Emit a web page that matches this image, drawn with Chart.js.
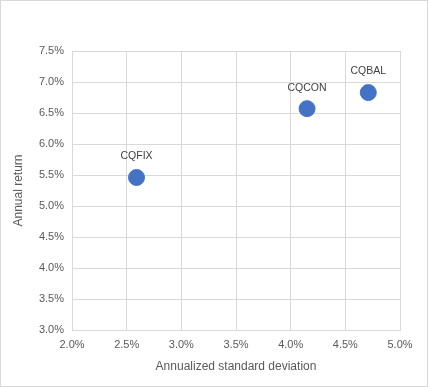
<!DOCTYPE html>
<html>
<head>
<meta charset="utf-8">
<script src="https://cdn.jsdelivr.net/npm/chart.js@4.4.1/dist/chart.umd.min.js"></script>
<style>
  html, body { margin: 0; padding: 0; background: #fff; }
  #wrap { position: relative; width: 426px; height: 385px; border: 1px solid #d9d9d9; }
</style>
</head>
<body>
<div id="wrap"><canvas id="riskChart" width="426" height="385"></canvas></div>
<script>
// fund names, risk (x, %) and return (y, %)
const funds = ['CQFIX', 'CQCON', 'CQBAL'];
const stdDev = [2.59, 4.15, 4.71];
const annualReturn = [5.46, 6.57, 6.83];

const xMin = 2.0, xMax = 5.0;
const yMin = 3.0, yMax = 7.5;

const fontFam = '"Liberation Sans", Arial, sans-serif';
const textColor = '#595959';
const gridColor = '#d9d9d9';
const dotColor = '#4472c4';

// draws the fund name above each point
const pointLabels = {
    id: 'pointLabels',
    afterDatasetsDraw(chart) {
        const ctx = chart.ctx;
        const meta = chart.getDatasetMeta(0);
        ctx.save();
        ctx.font = '10.5px ' + fontFam;
        ctx.fillStyle = '#404040';
        ctx.textAlign = 'center';
        ctx.textBaseline = 'middle';
        meta.data.forEach((pt, i) => {
            ctx.fillText(funds[i], pt.x, pt.y - 21);
        });
        ctx.restore();
    }
};

const pts = stdDev.map((x, i) => ({ x: x, y: annualReturn[i] }));

new Chart(document.getElementById('riskChart'), {
    type: 'scatter',
    data: {
        datasets: [{
            data: pts,
            backgroundColor: dotColor,
            borderColor: dotColor,
            pointRadius: 8,
            pointHoverRadius: 8
        }]
    },
    options: {
        responsive: false,
        animation: false,
        layout: { padding: { top: 50, right: 27, left: 0, bottom: 0 } },
        plugins: {
            legend: { display: false },
            tooltip: { enabled: false }
        },
        scales: {
            x: {
                type: 'linear',
                min: xMin,
                max: xMax,
                afterFit(scale) { scale.height = 56; },
                grid: { color: gridColor, drawTicks: false },
                border: { color: gridColor },
                ticks: {
                    stepSize: 0.5,
                    padding: 8,
                    color: textColor,
                    font: { family: fontFam, size: 11 },
                    callback: v => v.toFixed(1) + '%'
                },
                title: {
                    display: true,
                    text: 'Annualized standard deviation',
                    color: textColor,
                    font: { family: fontFam, size: 12 },
                    padding: { top: 4, bottom: 12 }
                }
            },
            y: {
                type: 'linear',
                min: yMin,
                max: yMax,
                afterFit(scale) { scale.width = 71; },
                grid: { color: gridColor, drawTicks: false },
                border: { color: gridColor },
                ticks: {
                    stepSize: 0.5,
                    padding: 8,
                    color: textColor,
                    font: { family: fontFam, size: 11 },
                    callback: v => v.toFixed(1) + '%'
                },
                title: {
                    display: true,
                    text: 'Annual return',
                    color: textColor,
                    font: { family: fontFam, size: 12 },
                    padding: { top: 10, bottom: 0 }
                }
            }
        }
    },
    plugins: [pointLabels]
});
</script>
</body>
</html>
